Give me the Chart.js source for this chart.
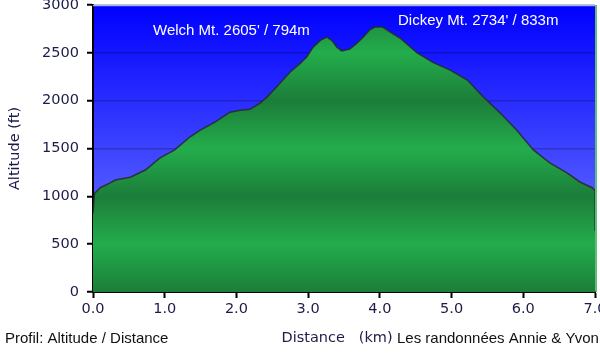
<!DOCTYPE html>
<html>
<head>
<meta charset="utf-8">
<script src="https://cdn.jsdelivr.net/npm/chart.js@4.4.0/dist/chart.umd.min.js"></script>
<style>
  html, body { margin: 0; padding: 0; background: #fff; }
  #wrap { width: 600px; height: 354px; }
</style>
</head>
<body>
<div id="wrap"><canvas id="profil" width="600" height="354"></canvas></div>
<script>
const distances = [0.00, 0.02, 0.10, 0.24, 0.31, 0.52, 0.73, 0.93, 1.14, 1.35, 1.49, 1.70, 1.91, 2.05, 2.19,
  2.33, 2.43, 2.61, 2.75, 2.89, 2.98, 3.07, 3.17, 3.26, 3.33, 3.40, 3.47, 3.58, 3.68, 3.77, 3.86, 3.93,
  4.04, 4.14, 4.28, 4.52, 4.74, 4.98, 5.22, 5.44, 5.68, 5.91, 6.14, 6.37, 6.61, 6.79, 6.96, 7.00, 7.00];
const altitudes = [820, 1030, 1090, 1140, 1170, 1200, 1275, 1400, 1485, 1620, 1690, 1775, 1880, 1900, 1910,
  1975, 2040, 2185, 2300, 2390, 2455, 2560, 2630, 2665, 2630, 2560, 2520, 2540, 2600, 2665, 2740, 2770,
  2770, 2720, 2655, 2500, 2400, 2320, 2215, 2040, 1870, 1690, 1485, 1350, 1245, 1150, 1090, 1060, 640];
const yTicks = [0, 500, 1000, 1500, 2000, 2500, 3000];
const xTicks = [0, 1, 2, 3, 4, 5, 6, 7];
const sommets = [
  { texte: "Welch Mt. 2605' / 794m", x: 153, y: 31 },
  { texte: "Dickey Mt. 2734' / 833m", x: 398, y: 21 }
];

const points = distances.map((d, i) => ({ x: d, y: altitudes[i] }));
const policeAxe = { family: '"DejaVu Sans", Verdana, sans-serif', size: 14.5 };

// fond bleu dégradé + textes
const decorPlugin = {
  id: 'decor',
  beforeDraw(chart) {
    const { ctx, chartArea: a } = chart;
    const g = ctx.createLinearGradient(0, a.top, 0, a.bottom);
    g.addColorStop(0, '#0000ff');
    g.addColorStop(1, '#7a86ff');
    ctx.save();
    ctx.fillStyle = g;
    ctx.fillRect(a.left, a.top, a.right - a.left, a.bottom - a.top);
    ctx.restore();
  },
  afterDraw(chart) {
    const { ctx, chartArea: a } = chart;
    ctx.save();
    // bordure haut et droite
    ctx.strokeStyle = '#a9b0e8';
    ctx.lineWidth = 1.5;
    ctx.beginPath();
    ctx.moveTo(a.left, a.top + 0.5);
    ctx.lineTo(a.right, a.top + 0.5);
    ctx.stroke();
    ctx.strokeStyle = '#2aa84c';
    ctx.beginPath();
    ctx.moveTo(a.right + 1, a.top);
    ctx.lineTo(a.right + 1, a.bottom);
    ctx.stroke();

    ctx.font = '15px "Liberation Sans", Arial, sans-serif';
    ctx.textBaseline = 'middle';
    ctx.fillStyle = '#ffffff';
    sommets.forEach(s => ctx.fillText(s.texte, s.x, s.y));

    ctx.fillStyle = '#111111';
    ctx.fillText('Profil: Altitude / Distance', 5, 339);
    ctx.fillText('Les randonnées Annie & Yvon', 397, 339);
    ctx.restore();
  }
};

function vertDegrade(context) {
  const chart = context.chart;
  const a = chart.chartArea;
  if (!a) return '#22a84a';
  const y = chart.scales.y;
  const g = chart.ctx.createLinearGradient(0, y.getPixelForValue(3000), 0, y.getPixelForValue(0));
  // sombre aux milliers, clair aux 500
  for (let v = 3000; v >= 0; v -= 500) {
    const t = (3000 - v) / 3000;
    g.addColorStop(t, (v % 1000 === 0) ? '#1c7d39' : '#23ad4c');
  }
  return g;
}

new Chart(document.getElementById('profil'), {
  type: 'line',
  data: {
    datasets: [{
      data: points,
      fill: 'origin',
      backgroundColor: vertDegrade,
      borderColor: 'rgba(40,40,40,0.85)',
      borderWidth: 1.5,
      pointRadius: 0,
      tension: 0
    }]
  },
  options: {
    responsive: false,
    animation: false,
    events: [],
    layout: { padding: { top: 5, right: 5, left: 0, bottom: 0 } },
    plugins: { legend: { display: false }, tooltip: { enabled: false } },
    scales: {
      x: {
        type: 'linear',
        min: 0,
        max: 7,
        afterBuildTicks: axis => { axis.ticks = xTicks.map(v => ({ value: v })); },
        afterFit: axis => {
          axis.height = 62;
          axis.paddingLeft = 0;
          axis.paddingRight = 0;
        },
        ticks: {
          color: '#1c1c48',
          font: policeAxe,
          padding: 3,
          maxRotation: 0,
          callback: v => v.toFixed(1)
        },
        grid: { drawOnChartArea: false, tickColor: '#000', tickLength: 6, tickWidth: 2 },
        border: { color: '#000', width: 2 },
        title: {
          display: true,
          text: 'Distance   (km)   ',
          color: '#1c1c48',
          font: policeAxe,
          padding: { top: 0, bottom: 7 }
        }
      },
      y: {
        min: 0,
        max: 3000,
        afterBuildTicks: axis => { axis.ticks = yTicks.map(v => ({ value: v })); },
        afterFit: axis => {
          axis.width = 93;
          axis.paddingTop = 0;
          axis.paddingBottom = 0;
        },
        ticks: {
          color: '#1c1c48',
          font: policeAxe,
          padding: 8,
          callback: v => String(v)
        },
        grid: {
          color: 'rgba(0,0,0,0.22)',
          lineWidth: 1.5,
          tickColor: '#000',
          tickLength: 6,
          tickWidth: 2
        },
        border: { color: '#000', width: 2 },
        title: {
          display: true,
          text: 'Altitude (ft)',
          color: '#1c1c48',
          font: policeAxe,
          padding: { top: 7, bottom: 0 }
        }
      }
    }
  },
  plugins: [decorPlugin]
});
</script>
</body>
</html>
